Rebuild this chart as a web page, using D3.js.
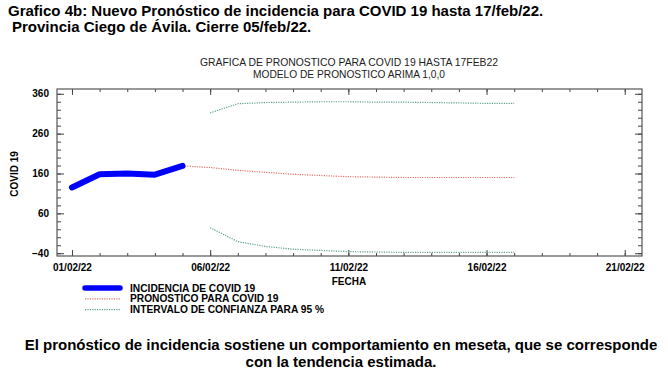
<!DOCTYPE html>
<html>
<head>
<meta charset="utf-8">
<script src="https://cdn.jsdelivr.net/npm/d3@7"></script>
<style>
  body { margin: 0; background: #fff; }
  text { font-family: "Liberation Sans", Arial, sans-serif; }
</style>
</head>
<body>
<script>
// data
var incDates = ["2022-02-01", "2022-02-02", "2022-02-03", "2022-02-04", "2022-02-05"];
var incidencia = [125, 158, 160, 157, 179];

var pronDates = ["2022-02-05", "2022-02-06", "2022-02-07", "2022-02-08", "2022-02-09", "2022-02-10",
  "2022-02-11", "2022-02-12", "2022-02-13", "2022-02-14", "2022-02-15", "2022-02-16", "2022-02-17"];
var pronostico = [179, 175, 168, 163, 158, 155, 152, 151, 150, 150, 150, 150, 150];

var ciDates = pronDates.slice(1);
var ciSuperior = [312, 335, 338, 339, 340, 340, 339, 339, 338, 337, 336, 336];
var ciInferior = [24, -11, -23, -30, -33, -36, -37, -38, -38, -38, -38, -38];

var yTicks = [-40, 60, 160, 260, 360];
var xTickDates = ["2022-02-01", "2022-02-06", "2022-02-11", "2022-02-16", "2022-02-21"];

var w = 668, h = 372;
var plotLeft = 57, plotRight = 642, plotTop = 89, plotBottom = 256;

var parse = d3.utcParse("%Y-%m-%d");
var fmt = d3.utcFormat("%d/%m/%y");

var svg = d3.select("body").append("svg")
  .attr("width", w)
  .attr("height", h);

// x: day 01/02 at 72px, one day = 27.65px
var xScale = d3.scaleUtc()
  .domain([new Date(Date.UTC(2022, 0, 31, 11)), new Date(Date.UTC(2022, 1, 21, 15))])
  .range([plotLeft, plotRight]);

var yScale = d3.scaleLinear()
  .domain([-47, 372])
  .range([plotBottom, plotTop]);

// headings
svg.append("text").attr("x", 8).attr("y", 16)
  .attr("font-size", 15).attr("font-weight", "bold")
  .text("Grafico 4b: Nuevo Pronóstico de incidencia para COVID 19 hasta 17/feb/22.");
svg.append("text").attr("x", 12).attr("y", 32)
  .attr("font-size", 15).attr("font-weight", "bold")
  .text("Provincia Ciego de Ávila. Cierre 05/feb/22.");

svg.append("text").attr("x", 349).attr("y", 66).attr("text-anchor", "middle")
  .attr("font-size", 10.4).attr("fill", "#222")
  .text("GRAFICA DE PRONOSTICO PARA COVID 19 HASTA 17FEB22");
svg.append("text").attr("x", 349).attr("y", 78).attr("text-anchor", "middle")
  .attr("font-size", 10.2).attr("fill", "#222")
  .text("MODELO DE PRONOSTICO ARIMA 1,0,0");

// minor ticks
var days = d3.utcDay.range(parse("2022-02-01"), parse("2022-02-22"));
var minorY = d3.range(-40, 361, 20);

function styleAxis(g) {
  g.select(".domain").remove();
  g.selectAll("line").attr("stroke", "#444");
}

svg.append("g").attr("transform", "translate(" + plotLeft + ",0)")
  .call(d3.axisLeft(yScale).tickValues(minorY).tickSize(-4).tickFormat(""))
  .call(styleAxis);
svg.append("g").attr("transform", "translate(" + plotRight + ",0)")
  .call(d3.axisRight(yScale).tickValues(minorY).tickSize(-4).tickFormat(""))
  .call(styleAxis);
svg.append("g").attr("transform", "translate(0," + plotBottom + ")")
  .call(d3.axisBottom(xScale).tickValues(days).tickSize(-3).tickFormat(""))
  .call(styleAxis);
svg.append("g").attr("transform", "translate(0," + plotTop + ")")
  .call(d3.axisTop(xScale).tickValues(days).tickSize(-3).tickFormat(""))
  .call(styleAxis);

// major ticks
var yAxis = svg.append("g").attr("transform", "translate(" + plotLeft + ",0)")
  .call(d3.axisLeft(yScale).tickValues(yTicks).tickSizeInner(-7).tickSizeOuter(0).tickPadding(8))
  .call(styleAxis);
yAxis.selectAll("text").attr("font-size", 10).attr("font-weight", "bold")
  .attr("font-family", "Liberation Sans, Arial, sans-serif").attr("fill", "#000");

svg.append("g").attr("transform", "translate(" + plotRight + ",0)")
  .call(d3.axisRight(yScale).tickValues(yTicks).tickSize(-7).tickFormat(""))
  .call(styleAxis);

var xAxis = svg.append("g").attr("transform", "translate(0," + plotBottom + ")")
  .call(d3.axisBottom(xScale).tickValues(xTickDates.map(parse)).tickSizeInner(-6).tickSizeOuter(0)
    .tickPadding(8).tickFormat(fmt))
  .call(styleAxis);
xAxis.selectAll("text").attr("font-size", 10).attr("font-weight", "bold")
  .attr("font-family", "Liberation Sans, Arial, sans-serif").attr("fill", "#000");

svg.append("g").attr("transform", "translate(0," + plotTop + ")")
  .call(d3.axisTop(xScale).tickValues(xTickDates.map(parse)).tickSize(-6).tickFormat(""))
  .call(styleAxis);

// frame
svg.append("rect")
  .attr("x", plotLeft).attr("y", plotTop)
  .attr("width", plotRight - plotLeft).attr("height", plotBottom - plotTop)
  .attr("fill", "none").attr("stroke", "#555").attr("stroke-width", 1.2);

// axis titles
svg.append("text").attr("x", 349).attr("y", 285).attr("text-anchor", "middle")
  .attr("font-size", 10).attr("font-weight", "bold").text("FECHA");
svg.append("text").attr("text-anchor", "middle")
  .attr("transform", "translate(18,174) rotate(-90)")
  .attr("font-size", 10).attr("font-weight", "bold").text("COVID 19");

// series
function series(dates, values) {
  return dates.map(function (d, i) { return { date: parse(d), value: values[i] }; });
}
var line = d3.line()
  .x(function (d) { return xScale(d.date); })
  .y(function (d) { return yScale(d.value); });

var redCol = "#e2706a";
var greenCol = "#5aa08a";

svg.append("path").datum(series(ciDates, ciSuperior))
  .attr("d", line).attr("fill", "none")
  .attr("stroke", greenCol).attr("stroke-width", 1.2).attr("stroke-dasharray", "1.2,1.2");
svg.append("path").datum(series(ciDates, ciInferior))
  .attr("d", line).attr("fill", "none")
  .attr("stroke", greenCol).attr("stroke-width", 1.2).attr("stroke-dasharray", "1.2,1.2");
svg.append("path").datum(series(pronDates, pronostico))
  .attr("d", line).attr("fill", "none")
  .attr("stroke", redCol).attr("stroke-width", 1.2).attr("stroke-dasharray", "1.2,1.2");
svg.append("path").datum(series(incDates, incidencia))
  .attr("d", line).attr("fill", "none")
  .attr("stroke", "#0000ff").attr("stroke-width", 6)
  .attr("stroke-linejoin", "round").attr("stroke-linecap", "round");

// legend
var legendItems = [
  { label: "INCIDENCIA DE COVID 19", color: "#0000ff", width: 5.5, dash: null },
  { label: "PRONOSTICO PARA COVID 19", color: redCol, width: 1.2, dash: "1.2,1.2" },
  { label: "INTERVALO DE CONFIANZA PARA 95 %", color: greenCol, width: 1.2, dash: "1.2,1.2" }
];
var legend = svg.selectAll(".legend").data(legendItems).enter().append("g")
  .attr("class", "legend")
  .attr("transform", function (d, i) { return "translate(0," + (288 + i * 10.8) + ")"; });
legend.append("line")
  .attr("x1", 85).attr("x2", 120).attr("y1", 0).attr("y2", 0)
  .attr("stroke", function (d) { return d.color; })
  .attr("stroke-width", function (d) { return d.width; })
  .attr("stroke-dasharray", function (d) { return d.dash; })
  .attr("stroke-linecap", function (d) { return d.dash ? "butt" : "round"; });
legend.append("text")
  .attr("x", 130).attr("y", 3.6)
  .attr("font-size", 10.2).attr("font-weight", "bold")
  .text(function (d) { return d.label; });

// conclusion
svg.append("text").attr("x", 341).attr("y", 350).attr("text-anchor", "middle")
  .attr("font-size", 15).attr("font-weight", "bold")
  .text("El pronóstico de incidencia sostiene un comportamiento en meseta, que se corresponde");
svg.append("text").attr("x", 341).attr("y", 367).attr("text-anchor", "middle")
  .attr("font-size", 15).attr("font-weight", "bold")
  .text("con la tendencia estimada.");
</script>
</body>
</html>
